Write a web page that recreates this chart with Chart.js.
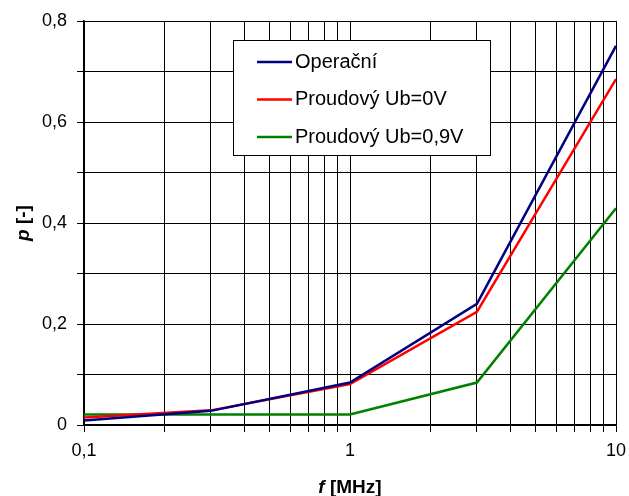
<!DOCTYPE html>
<html>
<head>
<meta charset="utf-8">
<script src="https://cdn.jsdelivr.net/npm/chart.js@4"></script>
<style>
  html, body { margin: 0; padding: 0; background: #fff; }
</style>
</head>
<body>
<canvas id="chart" width="629" height="496"></canvas>
<script>
// data
const freqs = [0.1, 0.3, 1, 3, 10];          // f [MHz]
const operacni = [0.009, 0.028, 0.084, 0.240, 0.751];
const proudovy0 = [0.015, 0.029, 0.081, 0.224, 0.685];
const proudovy09 = [0.021, 0.021, 0.021, 0.084, 0.429];
const seriesNames = ['Operační', 'Proudový Ub=0V', 'Proudový Ub=0,9V'];
const xTickLabels = { 0.1: '0,1', 1: '1', 10: '10' };
const yTickLabels = { 0: '0', 0.2: '0,2', 0.4: '0,4', 0.6: '0,6', 0.8: '0,8' };

const FONT = "'Liberation Sans', Arial, sans-serif";

function points(ys) {
    return freqs.map((f, i) => ({ x: f, y: ys[i] }));
}

// legend box + axis titles drawn by hand (mixed bold / bold italic)
const extras = {
    id: 'extras',
    afterDraw(chart) {
        const ctx = chart.ctx;
        const ca = chart.chartArea;
        ctx.save();

        // legend inside the plot
        const bx = 233, by = 40, bw = 257, bh = 115;
        ctx.fillStyle = '#fff';
        ctx.fillRect(bx, by, bw, bh);
        ctx.strokeStyle = '#000';
        ctx.lineWidth = 1;
        ctx.strokeRect(bx + 0.5, by + 0.5, bw, bh);
        ctx.font = '20px ' + FONT;
        ctx.textBaseline = 'middle';
        chart.data.datasets.forEach((ds, i) => {
            const yy = by + 22 + i * 37.5;
            ctx.strokeStyle = ds.borderColor;
            ctx.lineWidth = 2.5;
            ctx.beginPath();
            ctx.moveTo(257, yy);
            ctx.lineTo(292, yy);
            ctx.stroke();
            ctx.fillStyle = '#000';
            ctx.fillText(ds.label, 295, yy);
        });

        // x title: f [MHz]
        ctx.fillStyle = '#000';
        ctx.textBaseline = 'alphabetic';
        const cx = (ca.left + ca.right) / 2;
        ctx.font = 'italic bold 19px ' + FONT;
        const w1 = ctx.measureText('f').width;
        ctx.font = 'bold 19px ' + FONT;
        const w2 = ctx.measureText(' [MHz]').width;
        let sx = cx - (w1 + w2) / 2;
        ctx.font = 'italic bold 19px ' + FONT;
        ctx.fillText('f', sx, 493);
        ctx.font = 'bold 19px ' + FONT;
        ctx.fillText(' [MHz]', sx + w1, 493);

        // y title: p [-]
        ctx.translate(29, (ca.top + ca.bottom) / 2);
        ctx.rotate(-Math.PI / 2);
        ctx.font = 'italic bold 19px ' + FONT;
        const v1 = ctx.measureText('p').width;
        ctx.font = 'bold 19px ' + FONT;
        const v2 = ctx.measureText(' [-]').width;
        sx = -(v1 + v2) / 2;
        ctx.font = 'italic bold 19px ' + FONT;
        ctx.fillText('p', sx, 0);
        ctx.font = 'bold 19px ' + FONT;
        ctx.fillText(' [-]', sx + v1, 0);
        ctx.restore();
    }
};

const ctx = document.getElementById('chart').getContext('2d');
const chart = new Chart(ctx, {
    type: 'line',
    data: {
        datasets: [
            { label: seriesNames[0], data: points(operacni), borderColor: '#000080' },
            { label: seriesNames[1], data: points(proudovy0), borderColor: '#ff0000' },
            { label: seriesNames[2], data: points(proudovy09), borderColor: '#008000' }
        ]
    },
    options: {
        responsive: false,
        animation: false,
        layout: { padding: { left: 0, right: 13, top: 21, bottom: 0 } },
        elements: {
            line: { borderWidth: 2.5, tension: 0, fill: false },
            point: { radius: 0 }
        },
        plugins: {
            legend: { display: false },
            tooltip: { enabled: false }
        },
        scales: {
            x: {
                type: 'logarithmic',
                min: 0.1,
                max: 10,
                afterFit: s => { s.height = 71; s.paddingLeft = 0; s.paddingRight = 0; },
                afterBuildTicks: s => {
                    const t = [];
                    [0.1, 1].forEach(d => { for (let k = 1; k <= 9; k++) t.push({ value: +(k * d).toFixed(2) }); });
                    t.push({ value: 10 });
                    s.ticks = t;
                },
                grid: { color: '#000', lineWidth: 1, tickLength: 7, drawTicks: true },
                border: { color: '#000', width: 1.5 },
                ticks: {
                    autoSkip: false,
                    maxRotation: 0,
                    padding: 8,
                    color: '#000',
                    font: { family: FONT, size: 18 },
                    callback: v => xTickLabels[v] !== undefined ? xTickLabels[v] : ''
                }
            },
            y: {
                min: 0,
                max: 0.8,
                afterFit: s => { s.width = 84; s.paddingTop = 0; s.paddingBottom = 0; },
                grid: { color: '#000', lineWidth: 1, tickLength: 7 },
                border: { color: '#000', width: 1.5 },
                ticks: {
                    stepSize: 0.1,
                    padding: 10,
                    color: '#000',
                    font: { family: FONT, size: 18 },
                    callback: v => {
                        const k = Math.round(v * 10) / 10;
                        return yTickLabels[k] !== undefined ? yTickLabels[k] : '';
                    }
                }
            }
        }
    },
    plugins: [extras]
});
</script>
</body>
</html>
